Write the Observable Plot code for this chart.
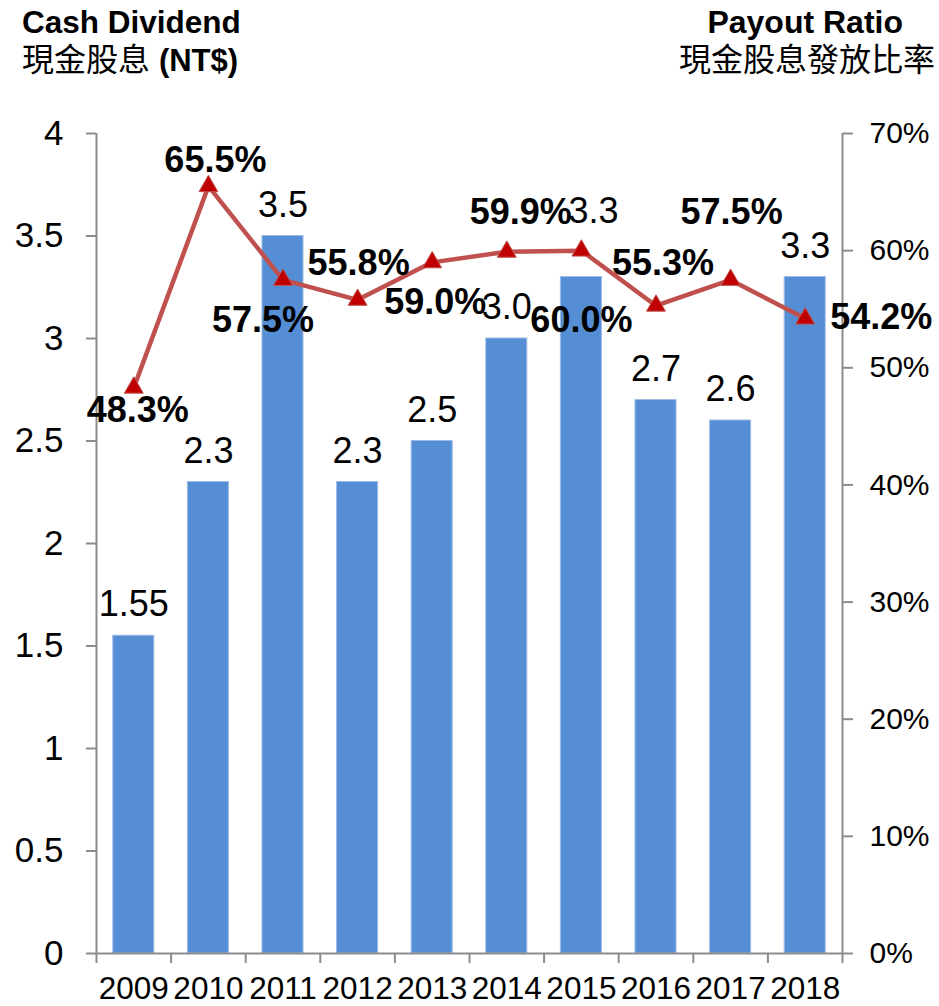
<!DOCTYPE html>
<html><head><meta charset="utf-8">
<script src="https://cdn.jsdelivr.net/npm/d3@7"></script>
<script src="https://cdn.jsdelivr.net/npm/@observablehq/plot@0.6"></script>
<style>
body{margin:0;background:#fff;}
#wrap{position:relative;width:939px;height:1006px;overflow:hidden;background:#fff;}
.t{position:absolute;white-space:nowrap;font-family:"Liberation Sans",Arial,"Noto Sans CJK TC",sans-serif;font-size:32px;line-height:36px;color:#000;}
.b{font-weight:bold;}
#chart{position:absolute;left:0;top:90px;}
</style></head><body>
<div id="wrap">
<div class="t b" style="left:22px;top:4px;font-size:31.5px">Cash Dividend</div>
<div class="t" style="left:22px;top:42px">現金股息 <b style="font-size:31px">(NT$)</b></div>
<div class="t b" style="right:36px;top:4px">Payout Ratio</div>
<div class="t" style="right:4px;top:42px">現金股息發放比率</div>
<div id="chart"></div>
</div>
<script>
// ---- data ----
const years = [2009, 2010, 2011, 2012, 2013, 2014, 2015, 2016, 2017, 2018];
const dividends = [1.55, 2.3, 3.5, 2.3, 2.5, 3.0, 3.3, 2.7, 2.6, 3.3];
const dividendLabels = ["1.55", "2.3", "3.5", "2.3", "2.5", "3.0", "3.3", "2.7", "2.6", "3.3"];
const payoutRatios = [48.3, 65.5, 57.5, 55.8, 59.0, 59.9, 60.0, 55.3, 57.5, 54.2];
const payoutLabels = ["48.3%", "65.5%", "57.5%", "55.8%", "59.0%", "59.9%", "60.0%", "55.3%", "57.5%", "54.2%"];
const leftTicks = [0, 0.5, 1, 1.5, 2, 2.5, 3, 3.5, 4];
const rightTicks = [0, 10, 20, 30, 40, 50, 60, 70];

// ---- layout (label nudges, px) ----
const pctLabelNudge = [[4,23],[7,-26],[-20,41],[1,-36],[3,40],[14,-39],[0,70],[7,-42],[1,-67],[76,-1]];
const divLabelNudge = [[0,-31],[0,-31],[0,-31],[0,-31],[0,-31],[0,-31],[12,-66],[0,-31],[0,-31],[0,-31]];

const leftMax = 4, rightMax = 70;
const toLeft = p => p * leftMax / rightMax;

const rows = years.map((y, i) => ({
  year: y, div: dividends[i], divLabel: dividendLabels[i],
  ratio: payoutRatios[i], ratioLabel: payoutLabels[i], i
}));

const xDomain = [years[0] - 0.5, years[years.length - 1] + 0.5];
const boundaries = d3.range(xDomain[0], xDomain[1] + 0.01, 1);
const halfBar = 0.275;
const gray = "#8c8c8c";

const marks = [
  Plot.rectY(rows, {x1: d => d.year - halfBar, x2: d => d.year + halfBar, y1: 0, y2: "div", fill: "#558ED5", stroke: "#9DBBE6", strokeWidth: 1}),
  Plot.ruleY([0], {stroke: gray, strokeWidth: 2}),
  Plot.ruleX(xDomain, {y1: 0, y2: leftMax, stroke: gray, strokeWidth: 2}),
  Plot.axisY(leftTicks, {anchor: "left", tickSize: 10, tickPadding: 23, fontSize: 35, stroke: gray, strokeWidth: 2, fill: "black", tickFormat: d => String(d), label: null}),
  Plot.axisY(rightTicks.map(toLeft), {anchor: "right", tickSize: 10, tickPadding: 17, fontSize: 30, stroke: gray, strokeWidth: 2, fill: "black", tickFormat: d => Math.round(d * rightMax / leftMax) + "%", label: null}),
  Plot.axisX(boundaries, {anchor: "bottom", tickSize: 10, stroke: gray, strokeWidth: 2, tickFormat: () => "", label: null}),
  Plot.axisX(years, {anchor: "bottom", tickSize: 0, tickPadding: 23, fontSize: 31.5, fill: "black", tickFormat: d => String(d), label: null}),
];

rows.forEach((r, i) => {
  marks.push(Plot.text([r], {x: "year", y: "div", text: "divLabel", dx: divLabelNudge[i][0], dy: divLabelNudge[i][1], fontSize: 36, fill: "black"}));
});

marks.push(
  Plot.line(rows, {x: "year", y: d => toLeft(d.ratio), stroke: "#C0504D", strokeWidth: 4.5}),
  Plot.dot(rows, {x: "year", y: d => toLeft(d.ratio), symbol: "triangle", r: 7, fill: "#C00000", stroke: "#C0504D", strokeWidth: 1})
);

rows.forEach((r, i) => {
  marks.push(Plot.text([r], {x: "year", y: d => toLeft(d.ratio), text: "ratioLabel", dx: pctLabelNudge[i][0], dy: pctLabelNudge[i][1], fontSize: 36, fontWeight: "bold", fill: "black"}));
});

const chart = Plot.plot({
  width: 939,
  height: 916,
  marginTop: 43,
  marginBottom: 53,
  marginLeft: 96,
  marginRight: 97,
  x: {type: "linear", domain: xDomain, axis: null},
  y: {domain: [0, leftMax], axis: null},
  style: {fontFamily: "'Liberation Sans', Arial, sans-serif", background: "white", color: "black", overflow: "visible"},
  marks
});
document.getElementById("chart").appendChild(chart);
</script>
</body></html>
